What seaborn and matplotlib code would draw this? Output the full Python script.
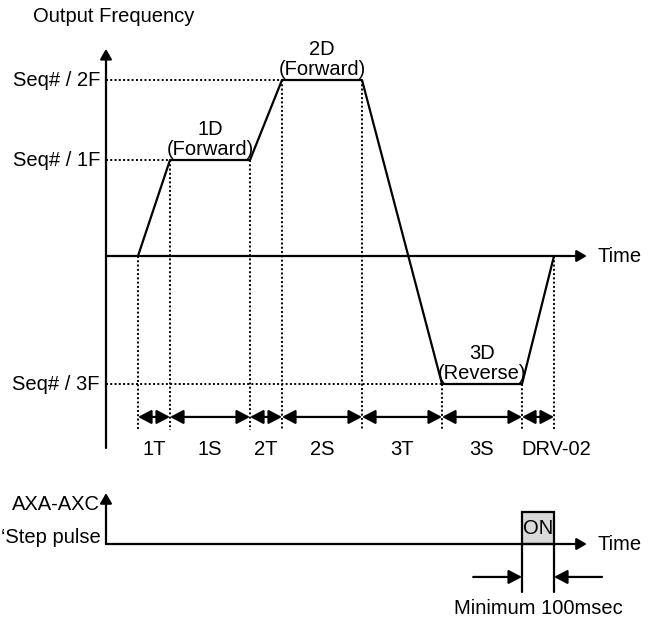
import matplotlib
matplotlib.use('Agg')
import matplotlib.pyplot as plt
from matplotlib.patches import Rectangle
import seaborn as sns

# Speed profile: breakpoints (s) and output frequency (Hz)
times = [4, 8, 18, 22, 32, 42, 52, 56]
freqs = [0, 30, 30, 55, 55, -40, -40, 0]

# Preset frequency levels and where their dotted guide stops
levels = [55, 30, -40]
level_labels = ['Seq# / 2F', 'Seq# / 1F', 'Seq# / 3F']
level_ends = [22, 8, 42]

segment_labels = ['1T', '1S', '2T', '2S', '3T', '3S', 'DRV-02']

step_names = ['1D', '2D', '3D']
step_dirs = ['(Forward)', '(Forward)', '(Reverse)']
step_starts = [8, 22, 42]
step_stops = [18, 32, 52]
step_levels = [30, 55, -40]

# Step pulse (on / off time, s)
pulse_on = 52
pulse_off = 56
pulse_min_label = 'Minimum 100msec'

sns.set_theme(style='white')
plt.rcParams['font.family'] = ['Liberation Sans', 'DejaVu Sans']
plt.rcParams['text.color'] = 'black'
fs = 14.5

fig = plt.figure(figsize=(6.54, 6.26), dpi=100)
ax = fig.add_axes([0, 156 / 626, 1, 470 / 626])
ax2 = fig.add_axes([0, 0, 1, 156 / 626])
for a in (ax, ax2):
    a.set_xlim(-13.25, 68.5)
    a.axis('off')
ax.set_ylim(-66.875, 80)
ax2.set_ylim(-2.5625, 2.3125)

lw = 1.6
dot = dict(color='black', lw=1.4, linestyle=(0, (1, 1.2)))
axis_arrow = dict(arrowstyle='-|>,head_length=0.6,head_width=0.35', color='black',
                  lw=lw, shrinkA=0, shrinkB=0, mutation_scale=10)
dbl_arrow = dict(arrowstyle='<|-|>,head_length=0.8,head_width=0.42', color='black',
                 lw=lw, shrinkA=0, shrinkB=0, mutation_scale=10)
one_arrow = dict(arrowstyle='-|>,head_length=0.8,head_width=0.42', color='black',
                 lw=lw, shrinkA=0, shrinkB=0, mutation_scale=10)

# ---- top: output frequency ----
ax.annotate('', xy=(0, 64.7), xytext=(0, -60), arrowprops=axis_arrow)
ax.annotate('', xy=(60.1, 0), xytext=(0, 0), arrowprops=axis_arrow)
ax.text(61.4, 0, 'Time', ha='left', va='center', fontsize=fs)
ax.text(-9.1, 74.7, 'Output Frequency', ha='left', va='center', fontsize=fs)

for lvl, lab, end in zip(levels, level_labels, level_ends):
    ax.plot([0, end], [lvl, lvl], **dot)
    ax.text(-0.75, lvl, lab, ha='right', va='center', fontsize=fs)

bottom = -54.4
for t, f in zip(times, freqs):
    ax.plot([t, t], [f, bottom], **dot)

sns.lineplot(x=times, y=freqs, ax=ax, color='black', lw=lw, sort=False,
             estimator=None, zorder=5)

arrow_y = -50.3
for i, lab in enumerate(segment_labels):
    t0, t1 = times[i], times[i + 1]
    ax.annotate('', xy=(t1, arrow_y), xytext=(t0, arrow_y), arrowprops=dbl_arrow)
    x = (t0 + t1) / 2 if i < len(segment_labels) - 1 else t1 + 0.3
    ax.text(x, -60.5, lab, ha='center', va='center', fontsize=fs)

for name, d, s0, s1, lvl in zip(step_names, step_dirs, step_starts, step_stops, step_levels):
    ax.annotate(name + '\n' + d, xy=((s0 + s1) / 2, lvl), xytext=(0, 1),
                textcoords='offset points', ha='center', va='bottom',
                fontsize=fs, linespacing=1.05)

# ---- bottom: step pulse ----
ax2.annotate('', xy=(0, 1.59), xytext=(0, 0), arrowprops=axis_arrow)
ax2.annotate('', xy=(60.1, 0), xytext=(0, 0), arrowprops=axis_arrow)
ax2.text(61.4, 0, 'Time', ha='left', va='center', fontsize=fs)
ax2.text(-0.75, 1.22, 'AXA-AXC', ha='right', va='center', fontsize=fs)
ax2.text(-0.6, 0.2, '\u2018Step pulse', ha='right', va='center', fontsize=fs)

ax2.add_patch(Rectangle((pulse_on, 0), pulse_off - pulse_on, 1, facecolor='#d9d9d9',
                        edgecolor='black', lw=lw, zorder=1))
ax2.text((pulse_on + pulse_off) / 2, 0.48, 'ON', ha='center', va='center', fontsize=fs)
for t in (pulse_on, pulse_off):
    ax2.plot([t, t], [0, -1.5], color='black', lw=lw)
ax2.annotate('', xy=(pulse_on, -1.03), xytext=(45.9, -1.03), arrowprops=one_arrow)
ax2.annotate('', xy=(pulse_off, -1.03), xytext=(62, -1.03), arrowprops=one_arrow)
ax2.text((pulse_on + pulse_off) / 2, -2.0, pulse_min_label, ha='center', va='center',
         fontsize=fs)

fig.savefig('out.png', dpi=100)
